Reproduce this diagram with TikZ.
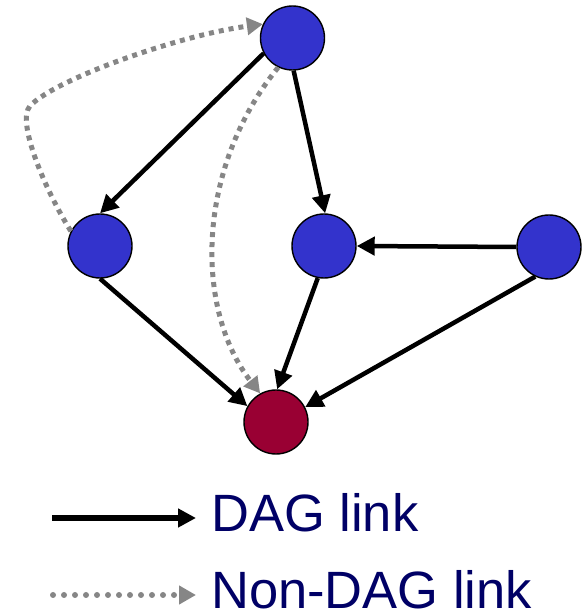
\documentclass[tikz,border=0pt]{standalone}
\usepackage{fontspec}
\setmainfont{Liberation Sans}
\usetikzlibrary{arrows.meta}
\definecolor{nodeblue}{HTML}{3333CC}
\definecolor{nodered}{HTML}{990033}
\definecolor{linkgray}{HTML}{868686}
\definecolor{navytext}{HTML}{000066}
\tikzset{
  vertex/.style={circle,draw=black,line width=1.4pt,minimum size=64pt,inner sep=0pt},
  daglink/.style={draw=black,line width=4.5pt,-{Triangle[length=18pt,width=18pt]}},
  nondaglink/.style={draw=linkgray,line width=5pt,dash pattern=on 5pt off 5pt,-{Triangle[length=16pt,width=17pt]}},
  legendtext/.style={anchor=base west,inner sep=0pt,text=navytext,font=\fontsize{52.5pt}{56pt}\selectfont}
}
\begin{document}
\begin{tikzpicture}[x=1pt,y=1pt]
\useasboundingbox (0,0) rectangle (585,612);
% nodes
\node[vertex,fill=nodeblue] (T) at (292.5,574) {};
\node[vertex,fill=nodeblue] (L) at (100,366) {};
\node[vertex,fill=nodeblue] (M) at (324,366) {};
\node[vertex,fill=nodeblue] (R) at (549,365) {};
\node[vertex,fill=nodered]  (B) at (276,190) {};
% non-DAG links
\draw[nondaglink] (L.153) .. controls (45,422) and (16,491) .. (30,506)
  .. controls (55,533) and (180,577) .. (T.155);
\draw[nondaglink] (T.244) .. controls (195,442) and (195,302) .. (B.119);
% DAG links
\draw[daglink] (T.208) -- (L.90);
\draw[daglink] (T.-88) -- (M.88);
\draw[daglink] (R.180) -- (M.0);
\draw[daglink] (M.259) -- (B.88);
\draw[daglink] (R.245) -- (B.27);
\draw[daglink] (L.270) -- (B.151);
% legend
\coordinate (d1) at (52,94);
\coordinate (d2) at (196,94);
\coordinate (n1) at (53,17);
\coordinate (n2) at (196,17);
\draw[draw=black,line width=6pt,-{Triangle[length=18pt,width=18pt]}] (d1) -- (d2);
\draw[draw=linkgray,line width=6pt,line cap=round,dash pattern=on 0pt off 11pt,-{Triangle[length=17pt,width=18pt]}] (n1) -- (n2);
\node[legendtext] (t1) at (211,80) {DAG link};
\node[legendtext] (t2) at (211,4) {Non-DAG link};
\end{tikzpicture}
\end{document}
